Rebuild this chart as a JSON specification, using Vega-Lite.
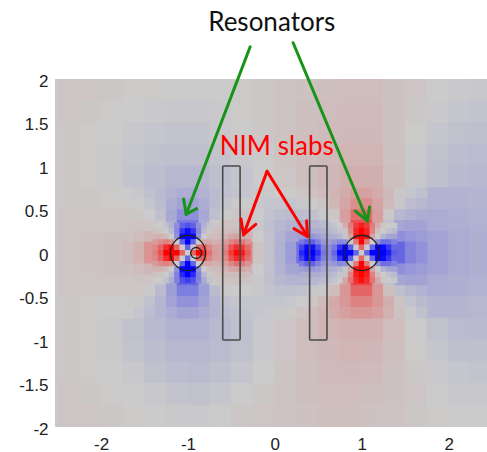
{
"$schema":"https://vega.github.io/schema/vega-lite/v6.json",
"width":434.5,"height":348,"autosize":"none",
"padding":{"left":55,"top":79,"right":0,"bottom":25},
"background":"white",
"config":{"view":{"stroke":null,"fill":"#cbc9c9"},
"axis":{"domain":false,"ticks":false,"grid":false,"labelFont":"Liberation Sans","labelFontSize":17,"labelColor":"#222222","title":null,"labelFlush":false,"labelOverlap":false,"labelBound":false}},
"datasets":{
"coarse":[
{"x":-2.375,"y":1.875,"v":0.03},{"x":-2.125,"y":1.875,"v":0.03},{"x":-1.875,"y":1.875,"v":0.02},{"x":-1.625,"y":1.875,"v":0.01},{"x":-1.375,"y":1.875,"v":0.01},{"x":-1.125,"y":1.875,"v":0},{"x":-0.875,"y":1.875,"v":0},{"x":-0.625,"y":1.875,"v":0},{"x":-0.375,"y":1.875,"v":0.01},{"x":-0.125,"y":1.875,"v":0.02},{"x":0.125,"y":1.875,"v":0.04},{"x":0.375,"y":1.875,"v":0.05},{"x":0.625,"y":1.875,"v":0.06},{"x":0.875,"y":1.875,"v":0.07},{"x":1.125,"y":1.875,"v":0.07},{"x":1.375,"y":1.875,"v":0.05},{"x":1.625,"y":1.875,"v":0.03},{"x":1.875,"y":1.875,"v":0},{"x":2.125,"y":1.875,"v":-0.01},{"x":2.375,"y":1.875,"v":-0.02},
{"x":-2.375,"y":1.625,"v":0.03},{"x":-2.125,"y":1.625,"v":0.02},{"x":-1.875,"y":1.625,"v":0.01},{"x":-1.625,"y":1.625,"v":0},{"x":-1.375,"y":1.625,"v":-0.01},{"x":-1.125,"y":1.625,"v":-0.02},{"x":-0.875,"y":1.625,"v":-0.02},{"x":-0.625,"y":1.625,"v":-0.01},{"x":-0.375,"y":1.625,"v":0.01},{"x":-0.125,"y":1.625,"v":0.02},{"x":0.125,"y":1.625,"v":0.04},{"x":0.375,"y":1.625,"v":0.06},{"x":0.625,"y":1.625,"v":0.07},{"x":0.875,"y":1.625,"v":0.08},{"x":1.125,"y":1.625,"v":0.08},{"x":1.375,"y":1.625,"v":0.05},{"x":1.625,"y":1.625,"v":0.02},{"x":1.875,"y":1.625,"v":-0.01},{"x":2.125,"y":1.625,"v":-0.03},{"x":2.375,"y":1.625,"v":-0.04},
{"x":-2.375,"y":1.375,"v":0.02},{"x":-2.125,"y":1.375,"v":0.01},{"x":-1.875,"y":1.375,"v":0},{"x":-1.625,"y":1.375,"v":-0.02},{"x":-1.375,"y":1.375,"v":-0.03},{"x":-1.125,"y":1.375,"v":-0.04},{"x":-0.875,"y":1.375,"v":-0.04},{"x":-0.625,"y":1.375,"v":-0.02},{"x":-0.375,"y":1.375,"v":0},{"x":-0.125,"y":1.375,"v":0.02},{"x":0.125,"y":1.375,"v":0.04},{"x":0.375,"y":1.375,"v":0.06},{"x":0.625,"y":1.375,"v":0.08},{"x":0.875,"y":1.375,"v":0.09},{"x":1.125,"y":1.375,"v":0.09},{"x":1.375,"y":1.375,"v":0.05},{"x":1.625,"y":1.375,"v":0.01},{"x":1.875,"y":1.375,"v":-0.03},{"x":2.125,"y":1.375,"v":-0.05},{"x":2.375,"y":1.375,"v":-0.06},
{"x":-2.375,"y":1.125,"v":0.02},{"x":-2.125,"y":1.125,"v":0.01},{"x":-1.875,"y":1.125,"v":-0.01},{"x":-1.625,"y":1.125,"v":-0.03},{"x":-1.375,"y":1.125,"v":-0.05},{"x":-1.125,"y":1.125,"v":-0.06},{"x":-0.875,"y":1.125,"v":-0.06},{"x":-0.625,"y":1.125,"v":-0.04},{"x":-0.375,"y":1.125,"v":-0.02},{"x":-0.125,"y":1.125,"v":0.01},{"x":0.125,"y":1.125,"v":0.04},{"x":0.375,"y":1.125,"v":0.07},{"x":0.625,"y":1.125,"v":0.09},{"x":0.875,"y":1.125,"v":0.11},{"x":1.125,"y":1.125,"v":0.11},{"x":1.375,"y":1.125,"v":0.05},{"x":1.625,"y":1.125,"v":-0.01},{"x":1.875,"y":1.125,"v":-0.05},{"x":2.125,"y":1.125,"v":-0.07},{"x":2.375,"y":1.125,"v":-0.08},
{"x":-2.375,"y":0.875,"v":0.02},{"x":-2.125,"y":0.875,"v":0.01},{"x":-1.875,"y":0.875,"v":-0.01},{"x":-1.625,"y":0.875,"v":-0.04},{"x":-1.375,"y":0.875,"v":-0.07},{"x":-1.125,"y":0.875,"v":-0.1},{"x":-0.875,"y":0.875,"v":-0.1},{"x":-0.625,"y":0.875,"v":-0.06},{"x":-0.375,"y":0.875,"v":-0.03},{"x":-0.125,"y":0.875,"v":0},{"x":0.125,"y":0.875,"v":0.03},{"x":0.375,"y":0.875,"v":0.06},{"x":0.625,"y":0.875,"v":0.1},{"x":0.875,"y":0.875,"v":0.14},{"x":1.125,"y":0.875,"v":0.14},{"x":1.375,"y":0.875,"v":0.06},{"x":1.625,"y":0.875,"v":-0.02},{"x":1.875,"y":0.875,"v":-0.06},{"x":2.125,"y":0.875,"v":-0.09},{"x":2.375,"y":0.875,"v":-0.1},
{"x":-2.375,"y":0.625,"v":0.02},{"x":-2.125,"y":0.625,"v":0.02},{"x":-1.875,"y":0.625,"v":0.01},{"x":1.875,"y":0.625,"v":-0.12},{"x":2.125,"y":0.625,"v":-0.12},{"x":2.375,"y":0.625,"v":-0.11},
{"x":-2.375,"y":0.375,"v":0.03},{"x":-2.125,"y":0.375,"v":0.03},{"x":-1.875,"y":0.375,"v":0.03},{"x":1.875,"y":0.375,"v":-0.16},{"x":2.125,"y":0.375,"v":-0.14},{"x":2.375,"y":0.375,"v":-0.13},
{"x":-2.375,"y":0.125,"v":0.03},{"x":-2.125,"y":0.125,"v":0.04},{"x":-1.875,"y":0.125,"v":0.05},{"x":1.875,"y":0.125,"v":-0.2},{"x":2.125,"y":0.125,"v":-0.16},{"x":2.375,"y":0.125,"v":-0.14},
{"x":-2.375,"y":-0.125,"v":0.03},{"x":-2.125,"y":-0.125,"v":0.04},{"x":-1.875,"y":-0.125,"v":0.05},{"x":1.875,"y":-0.125,"v":-0.2},{"x":2.125,"y":-0.125,"v":-0.16},{"x":2.375,"y":-0.125,"v":-0.14},
{"x":-2.375,"y":-0.375,"v":0.03},{"x":-2.125,"y":-0.375,"v":0.03},{"x":-1.875,"y":-0.375,"v":0.03},{"x":1.875,"y":-0.375,"v":-0.16},{"x":2.125,"y":-0.375,"v":-0.14},{"x":2.375,"y":-0.375,"v":-0.13},
{"x":-2.375,"y":-0.625,"v":0.02},{"x":-2.125,"y":-0.625,"v":0.01},{"x":-1.875,"y":-0.625,"v":0},{"x":1.875,"y":-0.625,"v":-0.11},{"x":2.125,"y":-0.625,"v":-0.11},{"x":2.375,"y":-0.625,"v":-0.1},
{"x":-2.375,"y":-0.875,"v":0.02},{"x":-2.125,"y":-0.875,"v":0.01},{"x":-1.875,"y":-0.875,"v":-0.01},{"x":-1.625,"y":-0.875,"v":-0.05},{"x":-1.375,"y":-0.875,"v":-0.09},{"x":-1.125,"y":-0.875,"v":-0.13},{"x":-0.875,"y":-0.875,"v":-0.13},{"x":-0.625,"y":-0.875,"v":-0.09},{"x":-0.375,"y":-0.875,"v":-0.05},{"x":-0.125,"y":-0.875,"v":-0.01},{"x":0.125,"y":-0.875,"v":0.03},{"x":0.375,"y":-0.875,"v":0.07},{"x":0.625,"y":-0.875,"v":0.11},{"x":0.875,"y":-0.875,"v":0.13},{"x":1.125,"y":-0.875,"v":0.13},{"x":1.375,"y":-0.875,"v":0.07},{"x":1.625,"y":-0.875,"v":0},{"x":1.875,"y":-0.875,"v":-0.05},{"x":2.125,"y":-0.875,"v":-0.08},{"x":2.375,"y":-0.875,"v":-0.09},
{"x":-2.375,"y":-1.125,"v":0.02},{"x":-2.125,"y":-1.125,"v":0.01},{"x":-1.875,"y":-1.125,"v":-0.01},{"x":-1.625,"y":-1.125,"v":-0.04},{"x":-1.375,"y":-1.125,"v":-0.07},{"x":-1.125,"y":-1.125,"v":-0.1},{"x":-0.875,"y":-1.125,"v":-0.1},{"x":-0.625,"y":-1.125,"v":-0.08},{"x":-0.375,"y":-1.125,"v":-0.05},{"x":-0.125,"y":-1.125,"v":-0.01},{"x":0.125,"y":-1.125,"v":0.03},{"x":0.375,"y":-1.125,"v":0.07},{"x":0.625,"y":-1.125,"v":0.09},{"x":0.875,"y":-1.125,"v":0.11},{"x":1.125,"y":-1.125,"v":0.1},{"x":1.375,"y":-1.125,"v":0.06},{"x":1.625,"y":-1.125,"v":0.01},{"x":1.875,"y":-1.125,"v":-0.03},{"x":2.125,"y":-1.125,"v":-0.06},{"x":2.375,"y":-1.125,"v":-0.06},
{"x":-2.375,"y":-1.375,"v":0.02},{"x":-2.125,"y":-1.375,"v":0.01},{"x":-1.875,"y":-1.375,"v":0},{"x":-1.625,"y":-1.375,"v":-0.02},{"x":-1.375,"y":-1.375,"v":-0.05},{"x":-1.125,"y":-1.375,"v":-0.07},{"x":-0.875,"y":-1.375,"v":-0.08},{"x":-0.625,"y":-1.375,"v":-0.06},{"x":-0.375,"y":-1.375,"v":-0.03},{"x":-0.125,"y":-1.375,"v":0},{"x":0.125,"y":-1.375,"v":0.04},{"x":0.375,"y":-1.375,"v":0.06},{"x":0.625,"y":-1.375,"v":0.08},{"x":0.875,"y":-1.375,"v":0.09},{"x":1.125,"y":-1.375,"v":0.08},{"x":1.375,"y":-1.375,"v":0.05},{"x":1.625,"y":-1.375,"v":0.02},{"x":1.875,"y":-1.375,"v":-0.01},{"x":2.125,"y":-1.375,"v":-0.03},{"x":2.375,"y":-1.375,"v":-0.04},
{"x":-2.375,"y":-1.625,"v":0.03},{"x":-2.125,"y":-1.625,"v":0.02},{"x":-1.875,"y":-1.625,"v":0.01},{"x":-1.625,"y":-1.625,"v":0},{"x":-1.375,"y":-1.625,"v":-0.02},{"x":-1.125,"y":-1.625,"v":-0.04},{"x":-0.875,"y":-1.625,"v":-0.05},{"x":-0.625,"y":-1.625,"v":-0.03},{"x":-0.375,"y":-1.625,"v":0},{"x":-0.125,"y":-1.625,"v":0.02},{"x":0.125,"y":-1.625,"v":0.04},{"x":0.375,"y":-1.625,"v":0.06},{"x":0.625,"y":-1.625,"v":0.07},{"x":0.875,"y":-1.625,"v":0.07},{"x":1.125,"y":-1.625,"v":0.06},{"x":1.375,"y":-1.625,"v":0.05},{"x":1.625,"y":-1.625,"v":0.03},{"x":1.875,"y":-1.625,"v":0},{"x":2.125,"y":-1.625,"v":-0.02},{"x":2.375,"y":-1.625,"v":-0.02},
{"x":-2.375,"y":-1.875,"v":0.03},{"x":-2.125,"y":-1.875,"v":0.03},{"x":-1.875,"y":-1.875,"v":0.02},{"x":-1.625,"y":-1.875,"v":0.01},{"x":-1.375,"y":-1.875,"v":0},{"x":-1.125,"y":-1.875,"v":-0.01},{"x":-0.875,"y":-1.875,"v":-0.01},{"x":-0.625,"y":-1.875,"v":0},{"x":-0.375,"y":-1.875,"v":0.02},{"x":-0.125,"y":-1.875,"v":0.03},{"x":0.125,"y":-1.875,"v":0.04},{"x":0.375,"y":-1.875,"v":0.05},{"x":0.625,"y":-1.875,"v":0.06},{"x":0.875,"y":-1.875,"v":0.06},{"x":1.125,"y":-1.875,"v":0.05},{"x":1.375,"y":-1.875,"v":0.04},{"x":1.625,"y":-1.875,"v":0.02},{"x":1.875,"y":-1.875,"v":0.01},{"x":2.125,"y":-1.875,"v":0},{"x":2.375,"y":-1.875,"v":0}
],
"medium":[
{"x":-1.6875,"y":0.6875,"v":0},{"x":-1.5625,"y":0.6875,"v":-0.02},{"x":-1.4375,"y":0.6875,"v":-0.05},{"x":-1.3125,"y":0.6875,"v":-0.08},{"x":-1.1875,"y":0.6875,"v":-0.12},{"x":-1.0625,"y":0.6875,"v":-0.15},{"x":-0.9375,"y":0.6875,"v":-0.15},{"x":-0.8125,"y":0.6875,"v":-0.12},{"x":-0.6875,"y":0.6875,"v":-0.08},{"x":-0.5625,"y":0.6875,"v":-0.05},{"x":-0.4375,"y":0.6875,"v":-0.04},{"x":-0.3125,"y":0.6875,"v":-0.03},{"x":-0.1875,"y":0.6875,"v":-0.02},{"x":-0.0625,"y":0.6875,"v":-0.01},{"x":0.0625,"y":0.6875,"v":0},{"x":0.1875,"y":0.6875,"v":0.01},{"x":0.3125,"y":0.6875,"v":0.03},{"x":0.4375,"y":0.6875,"v":0.05},{"x":0.5625,"y":0.6875,"v":0.08},{"x":0.6875,"y":0.6875,"v":0.11},{"x":0.8125,"y":0.6875,"v":0.16},{"x":0.9375,"y":0.6875,"v":0.2},{"x":1.0625,"y":0.6875,"v":0.2},{"x":1.1875,"y":0.6875,"v":0.16},{"x":1.3125,"y":0.6875,"v":0.09},{"x":1.4375,"y":0.6875,"v":0.02},{"x":1.5625,"y":0.6875,"v":-0.03},{"x":1.6875,"y":0.6875,"v":-0.06},
{"x":-1.6875,"y":0.5625,"v":0.01},{"x":-1.5625,"y":0.5625,"v":0},{"x":-1.4375,"y":0.5625,"v":-0.03},{"x":-1.3125,"y":0.5625,"v":-0.08},{"x":-1.1875,"y":0.5625,"v":-0.15},{"x":-1.0625,"y":0.5625,"v":-0.2},{"x":-0.9375,"y":0.5625,"v":-0.2},{"x":-0.8125,"y":0.5625,"v":-0.15},{"x":-0.6875,"y":0.5625,"v":-0.08},{"x":-0.5625,"y":0.5625,"v":-0.03},{"x":-0.4375,"y":0.5625,"v":0.01},{"x":-0.3125,"y":0.5625,"v":0},{"x":-0.1875,"y":0.5625,"v":-0.02},{"x":-0.0625,"y":0.5625,"v":-0.03},{"x":0.0625,"y":0.5625,"v":-0.03},{"x":0.1875,"y":0.5625,"v":-0.03},{"x":0.3125,"y":0.5625,"v":-0.02},{"x":0.4375,"y":0.5625,"v":0},{"x":0.5625,"y":0.5625,"v":0.04},{"x":0.6875,"y":0.5625,"v":0.1},{"x":0.8125,"y":0.5625,"v":0.19},{"x":0.9375,"y":0.5625,"v":0.3},{"x":1.0625,"y":0.5625,"v":0.3},{"x":1.1875,"y":0.5625,"v":0.19},{"x":1.3125,"y":0.5625,"v":0.08},{"x":1.4375,"y":0.5625,"v":-0.02},{"x":1.5625,"y":0.5625,"v":-0.07},{"x":1.6875,"y":0.5625,"v":-0.1},
{"x":-1.6875,"y":0.4375,"v":0.03},{"x":-1.5625,"y":0.4375,"v":0.02},{"x":-1.4375,"y":0.4375,"v":0},{"x":-1.3125,"y":0.4375,"v":-0.06},{"x":-1.1875,"y":0.4375,"v":-0.17},{"x":-1.0625,"y":0.4375,"v":-0.3},{"x":-0.9375,"y":0.4375,"v":-0.3},{"x":-0.8125,"y":0.4375,"v":-0.17},{"x":-0.6875,"y":0.4375,"v":-0.06},{"x":-0.5625,"y":0.4375,"v":0},{"x":-0.4375,"y":0.4375,"v":0.03},{"x":-0.3125,"y":0.4375,"v":0.03},{"x":-0.1875,"y":0.4375,"v":0},{"x":-0.0625,"y":0.4375,"v":-0.04},{"x":0.0625,"y":0.4375,"v":-0.07},{"x":0.1875,"y":0.4375,"v":-0.08},{"x":0.3125,"y":0.4375,"v":-0.07},{"x":0.4375,"y":0.4375,"v":-0.05},{"x":0.5625,"y":0.4375,"v":-0.02},{"x":0.6875,"y":0.4375,"v":0.03},{"x":0.8125,"y":0.4375,"v":0.22},{"x":0.9375,"y":0.4375,"v":0.45},{"x":1.0625,"y":0.4375,"v":0.45},{"x":1.1875,"y":0.4375,"v":0.22},{"x":1.3125,"y":0.4375,"v":0.02},{"x":1.4375,"y":0.4375,"v":-0.1},{"x":1.5625,"y":0.4375,"v":-0.13},{"x":1.6875,"y":0.4375,"v":-0.15},
{"x":-1.6875,"y":0.3125,"v":0.03},{"x":-1.5625,"y":0.3125,"v":0.04},{"x":-1.4375,"y":0.3125,"v":0.03},{"x":-1.3125,"y":0.3125,"v":-0.02},{"x":-1.1875,"y":0.3125,"v":-0.15},{"x":-1.0625,"y":0.3125,"v":-0.4},{"x":-0.9375,"y":0.3125,"v":-0.4},{"x":-0.8125,"y":0.3125,"v":-0.15},{"x":-0.6875,"y":0.3125,"v":0.01},{"x":-0.5625,"y":0.3125,"v":0.04},{"x":-0.4375,"y":0.3125,"v":0.045},{"x":-0.3125,"y":0.3125,"v":0.03},{"x":-0.1875,"y":0.3125,"v":-0.02},{"x":-0.0625,"y":0.3125,"v":-0.06},{"x":0.0625,"y":0.3125,"v":-0.1},{"x":0.1875,"y":0.3125,"v":-0.12},{"x":0.3125,"y":0.3125,"v":-0.15},{"x":0.4375,"y":0.3125,"v":-0.12},{"x":0.5625,"y":0.3125,"v":-0.09},{"x":0.6875,"y":0.3125,"v":0},{"x":0.8125,"y":0.3125,"v":0.2},{"x":0.9375,"y":0.3125,"v":0.6},{"x":1.0625,"y":0.3125,"v":0.6},{"x":1.1875,"y":0.3125,"v":0.2},{"x":1.3125,"y":0.3125,"v":-0.05},{"x":1.4375,"y":0.3125,"v":-0.18},{"x":1.5625,"y":0.3125,"v":-0.2},{"x":1.6875,"y":0.3125,"v":-0.2},
{"x":-1.6875,"y":0.1875,"v":0.05},{"x":-1.5625,"y":0.1875,"v":0.07},{"x":-1.4375,"y":0.1875,"v":0.1},{"x":-0.3125,"y":0.1875,"v":0.12},{"x":-0.1875,"y":0.1875,"v":0},{"x":-0.0625,"y":0.1875,"v":-0.05},{"x":0.0625,"y":0.1875,"v":-0.12},{"x":0.1875,"y":0.1875,"v":-0.18},{"x":0.3125,"y":0.1875,"v":-0.2},{"x":1.4375,"y":0.1875,"v":-0.3},{"x":1.5625,"y":0.1875,"v":-0.26},{"x":1.6875,"y":0.1875,"v":-0.23},
{"x":-1.6875,"y":0.0625,"v":0.07},{"x":-1.5625,"y":0.0625,"v":0.13},{"x":-1.4375,"y":0.0625,"v":0.28},{"x":-0.3125,"y":0.0625,"v":0.3},{"x":-0.1875,"y":0.0625,"v":0.04},{"x":-0.0625,"y":0.0625,"v":-0.05},{"x":0.0625,"y":0.0625,"v":-0.13},{"x":0.1875,"y":0.0625,"v":-0.23},{"x":0.3125,"y":0.0625,"v":-0.45},{"x":1.4375,"y":0.0625,"v":-0.5},{"x":1.5625,"y":0.0625,"v":-0.35},{"x":1.6875,"y":0.0625,"v":-0.28},
{"x":-1.6875,"y":-0.0625,"v":0.07},{"x":-1.5625,"y":-0.0625,"v":0.13},{"x":-1.4375,"y":-0.0625,"v":0.28},{"x":-0.3125,"y":-0.0625,"v":0.3},{"x":-0.1875,"y":-0.0625,"v":0.04},{"x":-0.0625,"y":-0.0625,"v":-0.05},{"x":0.0625,"y":-0.0625,"v":-0.13},{"x":0.1875,"y":-0.0625,"v":-0.23},{"x":0.3125,"y":-0.0625,"v":-0.45},{"x":1.4375,"y":-0.0625,"v":-0.5},{"x":1.5625,"y":-0.0625,"v":-0.35},{"x":1.6875,"y":-0.0625,"v":-0.28},
{"x":-1.6875,"y":-0.1875,"v":0.05},{"x":-1.5625,"y":-0.1875,"v":0.07},{"x":-1.4375,"y":-0.1875,"v":0.1},{"x":-0.3125,"y":-0.1875,"v":0.12},{"x":-0.1875,"y":-0.1875,"v":0},{"x":-0.0625,"y":-0.1875,"v":-0.05},{"x":0.0625,"y":-0.1875,"v":-0.12},{"x":0.1875,"y":-0.1875,"v":-0.18},{"x":0.3125,"y":-0.1875,"v":-0.2},{"x":1.4375,"y":-0.1875,"v":-0.3},{"x":1.5625,"y":-0.1875,"v":-0.26},{"x":1.6875,"y":-0.1875,"v":-0.23},
{"x":-1.6875,"y":-0.3125,"v":0.03},{"x":-1.5625,"y":-0.3125,"v":0.04},{"x":-1.4375,"y":-0.3125,"v":0.03},{"x":-1.3125,"y":-0.3125,"v":-0.04},{"x":-1.1875,"y":-0.3125,"v":-0.2},{"x":-1.0625,"y":-0.3125,"v":-0.5},{"x":-0.9375,"y":-0.3125,"v":-0.5},{"x":-0.8125,"y":-0.3125,"v":-0.2},{"x":-0.6875,"y":-0.3125,"v":0.01},{"x":-0.5625,"y":-0.3125,"v":0.04},{"x":-0.4375,"y":-0.3125,"v":0.045},{"x":-0.3125,"y":-0.3125,"v":0.03},{"x":-0.1875,"y":-0.3125,"v":-0.02},{"x":-0.0625,"y":-0.3125,"v":-0.06},{"x":0.0625,"y":-0.3125,"v":-0.1},{"x":0.1875,"y":-0.3125,"v":-0.12},{"x":0.3125,"y":-0.3125,"v":-0.13},{"x":0.4375,"y":-0.3125,"v":-0.1},{"x":0.5625,"y":-0.3125,"v":-0.05},{"x":0.6875,"y":-0.3125,"v":0.02},{"x":0.8125,"y":-0.3125,"v":0.23},{"x":0.9375,"y":-0.3125,"v":0.66},{"x":1.0625,"y":-0.3125,"v":0.66},{"x":1.1875,"y":-0.3125,"v":0.23},{"x":1.3125,"y":-0.3125,"v":-0.05},{"x":1.4375,"y":-0.3125,"v":-0.18},{"x":1.5625,"y":-0.3125,"v":-0.2},{"x":1.6875,"y":-0.3125,"v":-0.2},
{"x":-1.6875,"y":-0.4375,"v":0.03},{"x":-1.5625,"y":-0.4375,"v":0.02},{"x":-1.4375,"y":-0.4375,"v":-0.01},{"x":-1.3125,"y":-0.4375,"v":-0.08},{"x":-1.1875,"y":-0.4375,"v":-0.22},{"x":-1.0625,"y":-0.4375,"v":-0.38},{"x":-0.9375,"y":-0.4375,"v":-0.38},{"x":-0.8125,"y":-0.4375,"v":-0.22},{"x":-0.6875,"y":-0.4375,"v":-0.08},{"x":-0.5625,"y":-0.4375,"v":-0.01},{"x":-0.4375,"y":-0.4375,"v":0},{"x":-0.3125,"y":-0.4375,"v":0},{"x":-0.1875,"y":-0.4375,"v":-0.02},{"x":-0.0625,"y":-0.4375,"v":-0.04},{"x":0.0625,"y":-0.4375,"v":-0.06},{"x":0.1875,"y":-0.4375,"v":-0.06},{"x":0.3125,"y":-0.4375,"v":-0.05},{"x":0.4375,"y":-0.4375,"v":-0.02},{"x":0.5625,"y":-0.4375,"v":0.02},{"x":0.6875,"y":-0.4375,"v":0.07},{"x":0.8125,"y":-0.4375,"v":0.26},{"x":0.9375,"y":-0.4375,"v":0.5},{"x":1.0625,"y":-0.4375,"v":0.5},{"x":1.1875,"y":-0.4375,"v":0.26},{"x":1.3125,"y":-0.4375,"v":0.06},{"x":1.4375,"y":-0.4375,"v":-0.06},{"x":1.5625,"y":-0.4375,"v":-0.1},{"x":1.6875,"y":-0.4375,"v":-0.13},
{"x":-1.6875,"y":-0.5625,"v":0.01},{"x":-1.5625,"y":-0.5625,"v":-0.01},{"x":-1.4375,"y":-0.5625,"v":-0.05},{"x":-1.3125,"y":-0.5625,"v":-0.11},{"x":-1.1875,"y":-0.5625,"v":-0.2},{"x":-1.0625,"y":-0.5625,"v":-0.28},{"x":-0.9375,"y":-0.5625,"v":-0.28},{"x":-0.8125,"y":-0.5625,"v":-0.2},{"x":-0.6875,"y":-0.5625,"v":-0.11},{"x":-0.5625,"y":-0.5625,"v":-0.05},{"x":-0.4375,"y":-0.5625,"v":-0.03},{"x":-0.3125,"y":-0.5625,"v":-0.03},{"x":-0.1875,"y":-0.5625,"v":-0.03},{"x":-0.0625,"y":-0.5625,"v":-0.03},{"x":0.0625,"y":-0.5625,"v":-0.03},{"x":0.1875,"y":-0.5625,"v":-0.02},{"x":0.3125,"y":-0.5625,"v":0},{"x":0.4375,"y":-0.5625,"v":0.03},{"x":0.5625,"y":-0.5625,"v":0.09},{"x":0.6875,"y":-0.5625,"v":0.17},{"x":0.8125,"y":-0.5625,"v":0.26},{"x":0.9375,"y":-0.5625,"v":0.36},{"x":1.0625,"y":-0.5625,"v":0.36},{"x":1.1875,"y":-0.5625,"v":0.26},{"x":1.3125,"y":-0.5625,"v":0.14},{"x":1.4375,"y":-0.5625,"v":0.04},{"x":1.5625,"y":-0.5625,"v":-0.04},{"x":1.6875,"y":-0.5625,"v":-0.08},
{"x":-1.6875,"y":-0.6875,"v":0},{"x":-1.5625,"y":-0.6875,"v":-0.03},{"x":-1.4375,"y":-0.6875,"v":-0.07},{"x":-1.3125,"y":-0.6875,"v":-0.11},{"x":-1.1875,"y":-0.6875,"v":-0.16},{"x":-1.0625,"y":-0.6875,"v":-0.2},{"x":-0.9375,"y":-0.6875,"v":-0.2},{"x":-0.8125,"y":-0.6875,"v":-0.16},{"x":-0.6875,"y":-0.6875,"v":-0.11},{"x":-0.5625,"y":-0.6875,"v":-0.07},{"x":-0.4375,"y":-0.6875,"v":-0.05},{"x":-0.3125,"y":-0.6875,"v":-0.04},{"x":-0.1875,"y":-0.6875,"v":-0.03},{"x":-0.0625,"y":-0.6875,"v":-0.02},{"x":0.0625,"y":-0.6875,"v":-0.01},{"x":0.1875,"y":-0.6875,"v":0.01},{"x":0.3125,"y":-0.6875,"v":0.04},{"x":0.4375,"y":-0.6875,"v":0.07},{"x":0.5625,"y":-0.6875,"v":0.11},{"x":0.6875,"y":-0.6875,"v":0.16},{"x":0.8125,"y":-0.6875,"v":0.21},{"x":0.9375,"y":-0.6875,"v":0.25},{"x":1.0625,"y":-0.6875,"v":0.25},{"x":1.1875,"y":-0.6875,"v":0.21},{"x":1.3125,"y":-0.6875,"v":0.13},{"x":1.4375,"y":-0.6875,"v":0.05},{"x":1.5625,"y":-0.6875,"v":-0.01},{"x":1.6875,"y":-0.6875,"v":-0.05}
],
"fine":[
{"x":-1.375,"y":0.3125,"v":0.01},{"x":-1.3125,"y":0.3125,"v":0},{"x":-1.25,"y":0.3125,"v":-0.04},{"x":-1.1875,"y":0.3125,"v":-0.13},{"x":-1.125,"y":0.3125,"v":-0.3},{"x":-1.0625,"y":0.3125,"v":-0.52},{"x":-1,"y":0.3125,"v":-0.6},{"x":-0.9375,"y":0.3125,"v":-0.52},{"x":-0.875,"y":0.3125,"v":-0.3},{"x":-0.8125,"y":0.3125,"v":-0.13},{"x":-0.75,"y":0.3125,"v":-0.04},{"x":-0.6875,"y":0.3125,"v":0.03},{"x":-0.625,"y":0.3125,"v":0.04},{"x":-0.5625,"y":0.3125,"v":0.04},{"x":-0.5,"y":0.3125,"v":0.045},{"x":-0.4375,"y":0.3125,"v":0.045},{"x":-0.375,"y":0.3125,"v":0.045},{"x":-0.3125,"y":0.3125,"v":0.045},
{"x":-1.375,"y":0.25,"v":0.05},{"x":-1.3125,"y":0.25,"v":0.03},{"x":-1.25,"y":0.25,"v":0},{"x":-1.1875,"y":0.25,"v":-0.08},{"x":-1.125,"y":0.25,"v":-0.33},{"x":-1.0625,"y":0.25,"v":-0.75},{"x":-1,"y":0.25,"v":-0.95},{"x":-0.9375,"y":0.25,"v":-0.75},{"x":-0.875,"y":0.25,"v":-0.33},{"x":-0.8125,"y":0.25,"v":-0.08},{"x":-0.75,"y":0.25,"v":0.02},{"x":-0.6875,"y":0.25,"v":0.05},{"x":-0.625,"y":0.25,"v":0.06},{"x":-0.5625,"y":0.25,"v":0.07},{"x":-0.5,"y":0.25,"v":0.08},{"x":-0.4375,"y":0.25,"v":0.09},{"x":-0.375,"y":0.25,"v":0.09},{"x":-0.3125,"y":0.25,"v":0.08},
{"x":-1.375,"y":0.1875,"v":0.12},{"x":-1.3125,"y":0.1875,"v":0.13},{"x":-1.25,"y":0.1875,"v":0.09},{"x":-1.1875,"y":0.1875,"v":0},{"x":-1.125,"y":0.1875,"v":-0.28},{"x":-1.0625,"y":0.1875,"v":-0.97},{"x":-1,"y":0.1875,"v":-1.4},{"x":-0.9375,"y":0.1875,"v":-0.97},{"x":-0.875,"y":0.1875,"v":-0.28},{"x":-0.8125,"y":0.1875,"v":0},{"x":-0.75,"y":0.1875,"v":0.06},{"x":-0.6875,"y":0.1875,"v":0.07},{"x":-0.625,"y":0.1875,"v":0.09},{"x":-0.5625,"y":0.1875,"v":0.12},{"x":-0.5,"y":0.1875,"v":0.17},{"x":-0.4375,"y":0.1875,"v":0.2},{"x":-0.375,"y":0.1875,"v":0.19},{"x":-0.3125,"y":0.1875,"v":0.15},
{"x":-1.375,"y":0.125,"v":0.23},{"x":-1.3125,"y":0.125,"v":0.31},{"x":-1.25,"y":0.125,"v":0.37},{"x":-1.1875,"y":0.125,"v":0.29},{"x":-1.125,"y":0.125,"v":0},{"x":-1.0625,"y":0.125,"v":-0.51},{"x":-1,"y":0.125,"v":-1},{"x":-0.9375,"y":0.125,"v":-0.51},{"x":-0.875,"y":0.125,"v":0},{"x":-0.8125,"y":0.125,"v":0.16},{"x":-0.75,"y":0.125,"v":0.17},{"x":-0.6875,"y":0.125,"v":0.13},{"x":-0.625,"y":0.125,"v":0.15},{"x":-0.5625,"y":0.125,"v":0.21},{"x":-0.5,"y":0.125,"v":0.34},{"x":-0.4375,"y":0.125,"v":0.44},{"x":-0.375,"y":0.125,"v":0.41},{"x":-0.3125,"y":0.125,"v":0.28},
{"x":-1.375,"y":0.0625,"v":0.33},{"x":-1.3125,"y":0.0625,"v":0.51},{"x":-1.25,"y":0.0625,"v":0.79},{"x":-1.1875,"y":0.0625,"v":0.97},{"x":-1.125,"y":0.0625,"v":0.51},{"x":-1.0625,"y":0.0625,"v":0},{"x":-1,"y":0.0625,"v":-0.5},{"x":-0.9375,"y":0.0625,"v":0},{"x":-0.875,"y":0.0625,"v":0.48},{"x":-0.8125,"y":0.0625,"v":0.57},{"x":-0.75,"y":0.0625,"v":0.35},{"x":-0.6875,"y":0.0625,"v":0.21},{"x":-0.625,"y":0.0625,"v":0.2},{"x":-0.5625,"y":0.0625,"v":0.32},{"x":-0.5,"y":0.0625,"v":0.58},{"x":-0.4375,"y":0.0625,"v":0.79},{"x":-0.375,"y":0.0625,"v":0.73},{"x":-0.3125,"y":0.0625,"v":0.46},
{"x":-1.375,"y":0,"v":0.37},{"x":-1.3125,"y":0,"v":0.6},{"x":-1.25,"y":0,"v":1},{"x":-1.1875,"y":0,"v":1.4},{"x":-1.125,"y":0,"v":1},{"x":-1.0625,"y":0,"v":0.5},{"x":-1,"y":0,"v":0},{"x":-0.9375,"y":0,"v":0.5},{"x":-0.875,"y":0,"v":1.1},{"x":-0.8125,"y":0,"v":0.83},{"x":-0.75,"y":0,"v":0.44},{"x":-0.6875,"y":0,"v":0.25},{"x":-0.625,"y":0,"v":0.21},{"x":-0.5625,"y":0,"v":0.38},{"x":-0.5,"y":0,"v":0.71},{"x":-0.4375,"y":0,"v":0.97},{"x":-0.375,"y":0,"v":0.89},{"x":-0.3125,"y":0,"v":0.55},
{"x":-1.375,"y":-0.0625,"v":0.33},{"x":-1.3125,"y":-0.0625,"v":0.51},{"x":-1.25,"y":-0.0625,"v":0.79},{"x":-1.1875,"y":-0.0625,"v":0.97},{"x":-1.125,"y":-0.0625,"v":0.51},{"x":-1.0625,"y":-0.0625,"v":0},{"x":-1,"y":-0.0625,"v":-0.5},{"x":-0.9375,"y":-0.0625,"v":0},{"x":-0.875,"y":-0.0625,"v":0.48},{"x":-0.8125,"y":-0.0625,"v":0.57},{"x":-0.75,"y":-0.0625,"v":0.35},{"x":-0.6875,"y":-0.0625,"v":0.21},{"x":-0.625,"y":-0.0625,"v":0.2},{"x":-0.5625,"y":-0.0625,"v":0.32},{"x":-0.5,"y":-0.0625,"v":0.58},{"x":-0.4375,"y":-0.0625,"v":0.79},{"x":-0.375,"y":-0.0625,"v":0.73},{"x":-0.3125,"y":-0.0625,"v":0.46},
{"x":-1.375,"y":-0.125,"v":0.23},{"x":-1.3125,"y":-0.125,"v":0.31},{"x":-1.25,"y":-0.125,"v":0.37},{"x":-1.1875,"y":-0.125,"v":0.29},{"x":-1.125,"y":-0.125,"v":0},{"x":-1.0625,"y":-0.125,"v":-0.51},{"x":-1,"y":-0.125,"v":-1},{"x":-0.9375,"y":-0.125,"v":-0.51},{"x":-0.875,"y":-0.125,"v":0},{"x":-0.8125,"y":-0.125,"v":0.16},{"x":-0.75,"y":-0.125,"v":0.17},{"x":-0.6875,"y":-0.125,"v":0.13},{"x":-0.625,"y":-0.125,"v":0.15},{"x":-0.5625,"y":-0.125,"v":0.21},{"x":-0.5,"y":-0.125,"v":0.34},{"x":-0.4375,"y":-0.125,"v":0.44},{"x":-0.375,"y":-0.125,"v":0.41},{"x":-0.3125,"y":-0.125,"v":0.28},
{"x":-1.375,"y":-0.1875,"v":0.12},{"x":-1.3125,"y":-0.1875,"v":0.13},{"x":-1.25,"y":-0.1875,"v":0.09},{"x":-1.1875,"y":-0.1875,"v":0},{"x":-1.125,"y":-0.1875,"v":-0.29},{"x":-1.0625,"y":-0.1875,"v":-0.99},{"x":-1,"y":-0.1875,"v":-1.4},{"x":-0.9375,"y":-0.1875,"v":-0.99},{"x":-0.875,"y":-0.1875,"v":-0.29},{"x":-0.8125,"y":-0.1875,"v":0},{"x":-0.75,"y":-0.1875,"v":0.06},{"x":-0.6875,"y":-0.1875,"v":0.07},{"x":-0.625,"y":-0.1875,"v":0.09},{"x":-0.5625,"y":-0.1875,"v":0.12},{"x":-0.5,"y":-0.1875,"v":0.17},{"x":-0.4375,"y":-0.1875,"v":0.2},{"x":-0.375,"y":-0.1875,"v":0.19},{"x":-0.3125,"y":-0.1875,"v":0.15},
{"x":-1.375,"y":-0.25,"v":0.05},{"x":-1.3125,"y":-0.25,"v":0.03},{"x":-1.25,"y":-0.25,"v":0},{"x":-1.1875,"y":-0.25,"v":-0.09},{"x":-1.125,"y":-0.25,"v":-0.37},{"x":-1.0625,"y":-0.25,"v":-0.8},{"x":-1,"y":-0.25,"v":-1},{"x":-0.9375,"y":-0.25,"v":-0.8},{"x":-0.875,"y":-0.25,"v":-0.37},{"x":-0.8125,"y":-0.25,"v":-0.09},{"x":-0.75,"y":-0.25,"v":0.02},{"x":-0.6875,"y":-0.25,"v":0.05},{"x":-0.625,"y":-0.25,"v":0.06},{"x":-0.5625,"y":-0.25,"v":0.07},{"x":-0.5,"y":-0.25,"v":0.08},{"x":-0.4375,"y":-0.25,"v":0.09},{"x":-0.375,"y":-0.25,"v":0.09},{"x":-0.3125,"y":-0.25,"v":0.08},
{"x":-1.375,"y":-0.3125,"v":0.01},{"x":-1.3125,"y":-0.3125,"v":0},{"x":-1.25,"y":-0.3125,"v":-0.05},{"x":-1.1875,"y":-0.3125,"v":-0.16},{"x":-1.125,"y":-0.3125,"v":-0.36},{"x":-1.0625,"y":-0.3125,"v":-0.6},{"x":-1,"y":-0.3125,"v":-0.7},{"x":-0.9375,"y":-0.3125,"v":-0.6},{"x":-0.875,"y":-0.3125,"v":-0.36},{"x":-0.8125,"y":-0.3125,"v":-0.16},{"x":-0.75,"y":-0.3125,"v":-0.05},{"x":-0.6875,"y":-0.3125,"v":0.03},{"x":-0.625,"y":-0.3125,"v":0.04},{"x":-0.5625,"y":-0.3125,"v":0.04},{"x":-0.5,"y":-0.3125,"v":0.045},{"x":-0.4375,"y":-0.3125,"v":0.045},{"x":-0.375,"y":-0.3125,"v":0.045},{"x":-0.3125,"y":-0.3125,"v":0.045},
{"x":0.3125,"y":0.3125,"v":-0.11},{"x":0.375,"y":0.3125,"v":-0.1},{"x":0.4375,"y":0.3125,"v":-0.1},{"x":0.5,"y":0.3125,"v":-0.1},{"x":0.5625,"y":0.3125,"v":-0.08},{"x":0.625,"y":0.3125,"v":-0.07},{"x":0.6875,"y":0.3125,"v":-0.04},{"x":0.75,"y":0.3125,"v":0},{"x":0.8125,"y":0.3125,"v":0.15},{"x":0.875,"y":0.3125,"v":0.39},{"x":0.9375,"y":0.3125,"v":0.71},{"x":1,"y":0.3125,"v":0.85},{"x":1.0625,"y":0.3125,"v":0.71},{"x":1.125,"y":0.3125,"v":0.39},{"x":1.1875,"y":0.3125,"v":0.15},{"x":1.25,"y":0.3125,"v":0.03},{"x":1.3125,"y":0.3125,"v":0},{"x":1.375,"y":0.3125,"v":-0.02},
{"x":0.3125,"y":0.25,"v":-0.15},{"x":0.375,"y":0.25,"v":-0.15},{"x":0.4375,"y":0.25,"v":-0.15},{"x":0.5,"y":0.25,"v":-0.15},{"x":0.5625,"y":0.25,"v":-0.13},{"x":0.625,"y":0.25,"v":-0.1},{"x":0.6875,"y":0.25,"v":-0.07},{"x":0.75,"y":0.25,"v":-0.035},{"x":0.8125,"y":0.25,"v":0.04},{"x":0.875,"y":0.25,"v":0.34},{"x":0.9375,"y":0.25,"v":0.82},{"x":1,"y":0.25,"v":1.1},{"x":1.0625,"y":0.25,"v":0.82},{"x":1.125,"y":0.25,"v":0.34},{"x":1.1875,"y":0.25,"v":0.07},{"x":1.25,"y":0.25,"v":0},{"x":1.3125,"y":0.25,"v":-0.05},{"x":1.375,"y":0.25,"v":-0.09},
{"x":0.3125,"y":0.1875,"v":-0.22},{"x":0.375,"y":0.1875,"v":-0.26},{"x":0.4375,"y":0.1875,"v":-0.26},{"x":0.5,"y":0.1875,"v":-0.22},{"x":0.5625,"y":0.1875,"v":-0.17},{"x":0.625,"y":0.1875,"v":-0.15},{"x":0.6875,"y":0.1875,"v":-0.14},{"x":0.75,"y":0.1875,"v":-0.1},{"x":0.8125,"y":0.1875,"v":-0.03},{"x":0.875,"y":0.1875,"v":0.19},{"x":0.9375,"y":0.1875,"v":0.9},{"x":1,"y":0.1875,"v":1.4},{"x":1.0625,"y":0.1875,"v":0.9},{"x":1.125,"y":0.1875,"v":0.19},{"x":1.1875,"y":0.1875,"v":0},{"x":1.25,"y":0.1875,"v":-0.13},{"x":1.3125,"y":0.1875,"v":-0.19},{"x":1.375,"y":0.1875,"v":-0.2},
{"x":0.3125,"y":0.125,"v":-0.41},{"x":0.375,"y":0.125,"v":-0.54},{"x":0.4375,"y":0.125,"v":-0.52},{"x":0.5,"y":0.125,"v":-0.37},{"x":0.5625,"y":0.125,"v":-0.25},{"x":0.625,"y":0.125,"v":-0.23},{"x":0.6875,"y":0.125,"v":-0.26},{"x":0.75,"y":0.125,"v":-0.33},{"x":0.8125,"y":0.125,"v":-0.3},{"x":0.875,"y":0.125,"v":-0.02},{"x":0.9375,"y":0.125,"v":0.4},{"x":1,"y":0.125,"v":1},{"x":1.0625,"y":0.125,"v":0.4},{"x":1.125,"y":0.125,"v":0},{"x":1.1875,"y":0.125,"v":-0.31},{"x":1.25,"y":0.125,"v":-0.46},{"x":1.3125,"y":0.125,"v":-0.45},{"x":1.375,"y":0.125,"v":-0.36},
{"x":0.3125,"y":0.0625,"v":-0.67},{"x":0.375,"y":0.0625,"v":-0.96},{"x":0.4375,"y":0.0625,"v":-0.93},{"x":0.5,"y":0.0625,"v":-0.62},{"x":0.5625,"y":0.0625,"v":-0.37},{"x":0.625,"y":0.0625,"v":-0.3},{"x":0.6875,"y":0.0625,"v":-0.42},{"x":0.75,"y":0.0625,"v":-0.76},{"x":0.8125,"y":0.0625,"v":-1.01},{"x":0.875,"y":0.0625,"v":-0.54},{"x":0.9375,"y":0.0625,"v":0},{"x":1,"y":0.0625,"v":0.5},{"x":1.0625,"y":0.0625,"v":0},{"x":1.125,"y":0.0625,"v":-0.51},{"x":1.1875,"y":0.0625,"v":-1},{"x":1.25,"y":0.0625,"v":-0.95},{"x":1.3125,"y":0.0625,"v":-0.73},{"x":1.375,"y":0.0625,"v":-0.49},
{"x":0.3125,"y":0,"v":-0.8},{"x":0.375,"y":0,"v":-1.2},{"x":0.4375,"y":0,"v":-1.16},{"x":0.5,"y":0,"v":-0.76},{"x":0.5625,"y":0,"v":-0.42},{"x":0.625,"y":0,"v":-0.33},{"x":0.6875,"y":0,"v":-0.5},{"x":0.75,"y":0,"v":-0.97},{"x":0.8125,"y":0,"v":-1.45},{"x":0.875,"y":0,"v":-1.03},{"x":0.9375,"y":0,"v":-0.5},{"x":1,"y":0,"v":0},{"x":1.0625,"y":0,"v":-0.5},{"x":1.125,"y":0,"v":-1},{"x":1.1875,"y":0,"v":-1.4},{"x":1.25,"y":0,"v":-1.2},{"x":1.3125,"y":0,"v":-0.85},{"x":1.375,"y":0,"v":-0.55},
{"x":0.3125,"y":-0.0625,"v":-0.67},{"x":0.375,"y":-0.0625,"v":-0.96},{"x":0.4375,"y":-0.0625,"v":-0.93},{"x":0.5,"y":-0.0625,"v":-0.62},{"x":0.5625,"y":-0.0625,"v":-0.37},{"x":0.625,"y":-0.0625,"v":-0.3},{"x":0.6875,"y":-0.0625,"v":-0.42},{"x":0.75,"y":-0.0625,"v":-0.76},{"x":0.8125,"y":-0.0625,"v":-1.01},{"x":0.875,"y":-0.0625,"v":-0.54},{"x":0.9375,"y":-0.0625,"v":0},{"x":1,"y":-0.0625,"v":0.5},{"x":1.0625,"y":-0.0625,"v":0},{"x":1.125,"y":-0.0625,"v":-0.51},{"x":1.1875,"y":-0.0625,"v":-1},{"x":1.25,"y":-0.0625,"v":-0.95},{"x":1.3125,"y":-0.0625,"v":-0.73},{"x":1.375,"y":-0.0625,"v":-0.49},
{"x":0.3125,"y":-0.125,"v":-0.41},{"x":0.375,"y":-0.125,"v":-0.54},{"x":0.4375,"y":-0.125,"v":-0.52},{"x":0.5,"y":-0.125,"v":-0.37},{"x":0.5625,"y":-0.125,"v":-0.25},{"x":0.625,"y":-0.125,"v":-0.23},{"x":0.6875,"y":-0.125,"v":-0.26},{"x":0.75,"y":-0.125,"v":-0.33},{"x":0.8125,"y":-0.125,"v":-0.3},{"x":0.875,"y":-0.125,"v":-0.02},{"x":0.9375,"y":-0.125,"v":0.4},{"x":1,"y":-0.125,"v":1},{"x":1.0625,"y":-0.125,"v":0.4},{"x":1.125,"y":-0.125,"v":0},{"x":1.1875,"y":-0.125,"v":-0.31},{"x":1.25,"y":-0.125,"v":-0.46},{"x":1.3125,"y":-0.125,"v":-0.45},{"x":1.375,"y":-0.125,"v":-0.36},
{"x":0.3125,"y":-0.1875,"v":-0.22},{"x":0.375,"y":-0.1875,"v":-0.26},{"x":0.4375,"y":-0.1875,"v":-0.26},{"x":0.5,"y":-0.1875,"v":-0.22},{"x":0.5625,"y":-0.1875,"v":-0.17},{"x":0.625,"y":-0.1875,"v":-0.15},{"x":0.6875,"y":-0.1875,"v":-0.14},{"x":0.75,"y":-0.1875,"v":-0.1},{"x":0.8125,"y":-0.1875,"v":-0.03},{"x":0.875,"y":-0.1875,"v":0.19},{"x":0.9375,"y":-0.1875,"v":0.9},{"x":1,"y":-0.1875,"v":1.4},{"x":1.0625,"y":-0.1875,"v":0.9},{"x":1.125,"y":-0.1875,"v":0.19},{"x":1.1875,"y":-0.1875,"v":0},{"x":1.25,"y":-0.1875,"v":-0.13},{"x":1.3125,"y":-0.1875,"v":-0.19},{"x":1.375,"y":-0.1875,"v":-0.2},
{"x":0.3125,"y":-0.25,"v":-0.15},{"x":0.375,"y":-0.25,"v":-0.15},{"x":0.4375,"y":-0.25,"v":-0.15},{"x":0.5,"y":-0.25,"v":-0.15},{"x":0.5625,"y":-0.25,"v":-0.13},{"x":0.625,"y":-0.25,"v":-0.1},{"x":0.6875,"y":-0.25,"v":-0.07},{"x":0.75,"y":-0.25,"v":-0.035},{"x":0.8125,"y":-0.25,"v":0.05},{"x":0.875,"y":-0.25,"v":0.36},{"x":0.9375,"y":-0.25,"v":0.86},{"x":1,"y":-0.25,"v":1.15},{"x":1.0625,"y":-0.25,"v":0.86},{"x":1.125,"y":-0.25,"v":0.36},{"x":1.1875,"y":-0.25,"v":0.08},{"x":1.25,"y":-0.25,"v":0},{"x":1.3125,"y":-0.25,"v":-0.05},{"x":1.375,"y":-0.25,"v":-0.09},
{"x":0.3125,"y":-0.3125,"v":-0.11},{"x":0.375,"y":-0.3125,"v":-0.1},{"x":0.4375,"y":-0.3125,"v":-0.1},{"x":0.5,"y":-0.3125,"v":-0.1},{"x":0.5625,"y":-0.3125,"v":-0.08},{"x":0.625,"y":-0.3125,"v":-0.07},{"x":0.6875,"y":-0.3125,"v":-0.04},{"x":0.75,"y":-0.3125,"v":0},{"x":0.8125,"y":-0.3125,"v":0.17},{"x":0.875,"y":-0.3125,"v":0.43},{"x":0.9375,"y":-0.3125,"v":0.78},{"x":1,"y":-0.3125,"v":0.93},{"x":1.0625,"y":-0.3125,"v":0.78},{"x":1.125,"y":-0.3125,"v":0.43},{"x":1.1875,"y":-0.3125,"v":0.17},{"x":1.25,"y":-0.3125,"v":0.03},{"x":1.3125,"y":-0.3125,"v":0},{"x":1.375,"y":-0.3125,"v":-0.02}
],
"slabs":[{"x":-0.6,"y":-1,"x2":-0.4,"y2":1},{"x":0.4,"y":-1,"x2":0.6,"y2":1}],
"rings":[{"x":-1,"y":0,"kind":"resonator"},{"x":1,"y":0,"kind":"resonator"},{"x":-0.905,"y":0,"kind":"inner"}],
"arrows":[
{"x":-0.284,"y":2.37,"x2":-1.02,"y2":0.445,"kind":"res"},{"x":-1.02,"y":0.445,"x2":-1.05,"y2":0.62,"kind":"res"},{"x":-1.02,"y":0.445,"x2":-0.9,"y2":0.51,"kind":"res"},
{"x":0.21,"y":2.417,"x2":1.067,"y2":0.368,"kind":"res"},{"x":1.067,"y":0.368,"x2":0.925,"y2":0.483,"kind":"res"},{"x":1.067,"y":0.368,"x2":1.09,"y2":0.53,"kind":"res"},
{"x":-0.09,"y":0.94,"x2":-0.36,"y2":0.21,"kind":"nim"},{"x":-0.36,"y":0.21,"x2":-0.22,"y2":0.33,"kind":"nim"},{"x":-0.36,"y":0.21,"x2":-0.39,"y2":0.39,"kind":"nim"},
{"x":-0.09,"y":0.94,"x2":0.375,"y2":0.19,"kind":"nim"},{"x":0.375,"y":0.19,"x2":0.22,"y2":0.28,"kind":"nim"},{"x":0.375,"y":0.19,"x2":0.365,"y2":0.37,"kind":"nim"}
],
"labels":[{"x":-0.036,"y":2.64,"label":"Resonators","kind":"res"},{"x":0.022,"y":1.22,"label":"NIM slabs","kind":"nim"}]
},
"encoding":{
"x":{"field":"x","type":"quantitative","scale":{"domain":[-2.53,2.47],"nice":false,"zero":false},"axis":{"values":[-2,-1,0,1,2],"labelPadding":9,"labelExpr":"'' + datum.value"}},
"y":{"field":"y","type":"quantitative","scale":{"domain":[-2,2],"nice":false,"zero":false},"axis":{"values":[-2,-1.5,-1,-0.5,0,0.5,1,1.5,2],"labelPadding":7,"labelOffset":2,"labelExpr":"'' + datum.value"}}
},
"layer":[
{"data":{"name":"coarse"},"mark":{"type":"square","size":510,"opacity":1,"strokeWidth":0,"clip":true},
"encoding":{"color":{"field":"v","type":"quantitative","scale":{"domain":[-1,0,1],"range":["#0000ff","#cbcbcb","#ff0000"],"clamp":true,"interpolate":"rgb"},"legend":null}}},
{"data":{"name":"medium"},"mark":{"type":"square","size":133,"opacity":1,"strokeWidth":0,"clip":true},
"encoding":{"color":{"field":"v","type":"quantitative","scale":{"domain":[-1,0,1],"range":["#0000ff","#cbcbcb","#ff0000"],"clamp":true,"interpolate":"rgb"},"legend":null}}},
{"data":{"name":"fine"},"mark":{"type":"square","size":36,"opacity":1,"strokeWidth":0,"clip":true},
"encoding":{"color":{"field":"v","type":"quantitative","scale":{"domain":[-1,0,1],"range":["#0000ff","#cbcbcb","#ff0000"],"clamp":true,"interpolate":"rgb"},"legend":null}}},
{"data":{"name":"slabs"},"mark":{"type":"rect","fillOpacity":0,"stroke":"#4a4a4a","strokeWidth":1.6,"cornerRadius":1},
"encoding":{"x2":{"field":"x2"},"y2":{"field":"y2"}}},
{"data":{"name":"rings"},"transform":[{"filter":"datum.kind == 'resonator'"}],"mark":{"type":"point","shape":"circle","size":1225,"filled":false,"stroke":"#222222","strokeWidth":1.3,"opacity":1}},
{"data":{"name":"rings"},"transform":[{"filter":"datum.kind == 'inner'"}],"mark":{"type":"point","shape":"circle","size":121,"filled":false,"stroke":"#222222","strokeWidth":1.3,"opacity":1}},
{"data":{"name":"arrows"},"transform":[{"filter":"datum.kind == 'res'"}],"mark":{"type":"rule","stroke":"#179417","strokeWidth":3,"strokeCap":"round"},
"encoding":{"x2":{"field":"x2"},"y2":{"field":"y2"}}},
{"data":{"name":"arrows"},"transform":[{"filter":"datum.kind == 'nim'"}],"mark":{"type":"rule","stroke":"#ff0000","strokeWidth":3,"strokeCap":"round"},
"encoding":{"x2":{"field":"x2"},"y2":{"field":"y2"}}},
{"data":{"name":"labels"},"transform":[{"filter":"datum.kind == 'res'"}],"mark":{"type":"text","font":"Lato","fontSize":26,"color":"#111111","baseline":"middle","align":"center"},
"encoding":{"text":{"field":"label"}}},
{"data":{"name":"labels"},"transform":[{"filter":"datum.kind == 'nim'"}],"mark":{"type":"text","font":"Lato","fontSize":26,"color":"#ff0000","baseline":"middle","align":"center"},
"encoding":{"text":{"field":"label"}}}
]
}
